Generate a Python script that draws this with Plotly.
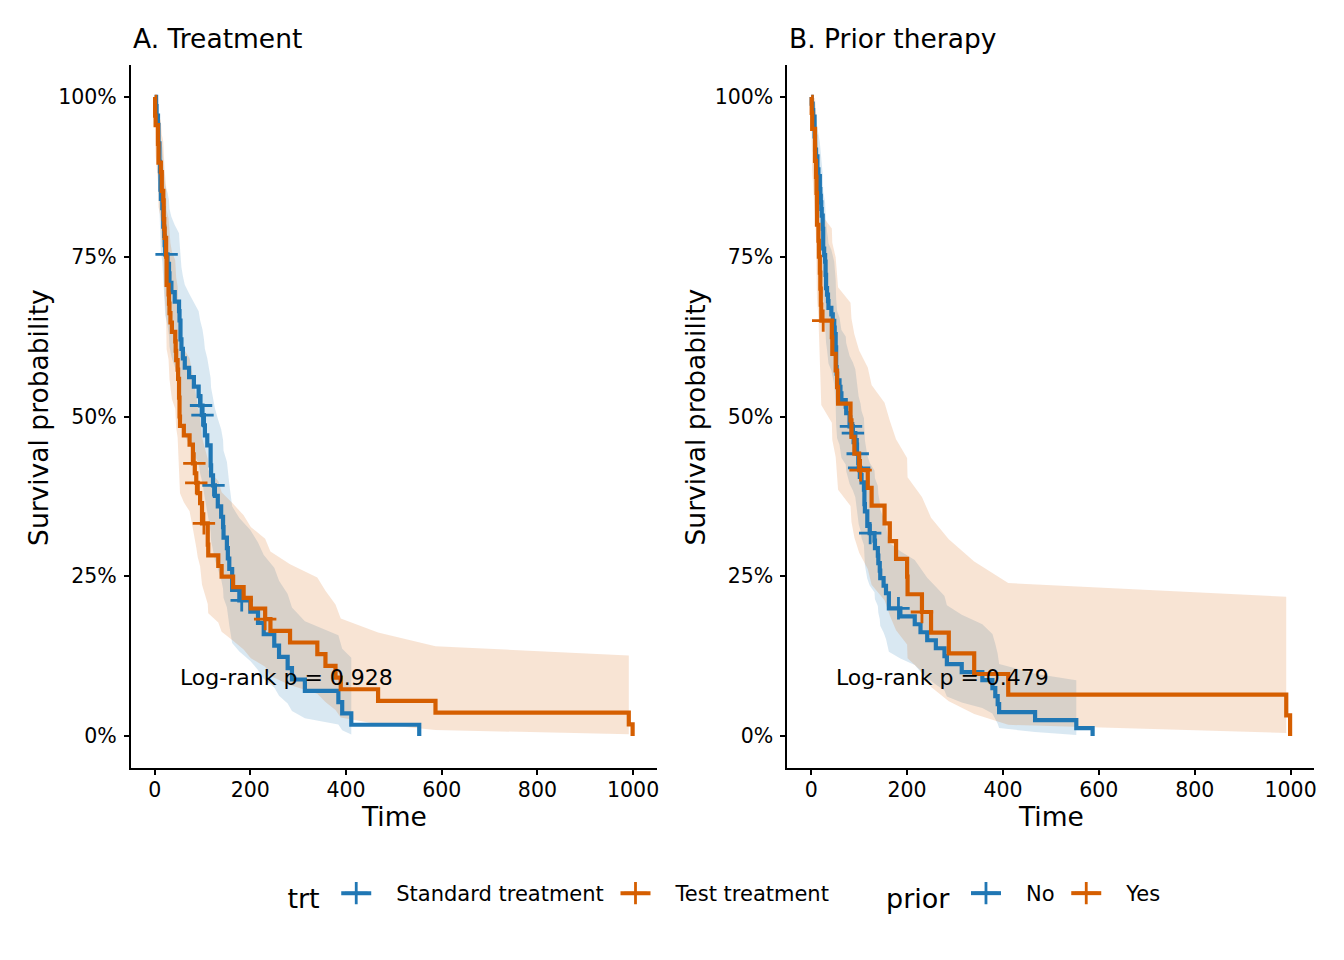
import plotly.graph_objects as go

# Kaplan-Meier steps: event times, survival, 95% band
std_time = [3, 4, 7, 8, 10, 11, 12, 13, 16, 18, 20, 21, 22, 27, 30, 31, 35, 42, 51, 52,
            54, 56, 59, 63, 72, 82, 92, 95, 100, 103, 105, 110, 117, 118, 122, 126, 132, 139, 143, 144,
            151, 153, 156, 162, 177, 200, 216, 228, 250, 260, 278, 287, 314, 384, 392, 411, 553]
std_surv = [.9855, .9710, .9565, .9275, .8986, .8841, .8551, .8406, .8261, .7971,
            .7826, .7681, .7536, .7388, .7241, .7093, .6945, .6797, .6650, .6502,
            .6206, .6059, .5911, .5763, .5615, .5467, .5320, .5172, .5020, .4863,
            .4706, .4549, .4236, .4079, .3922, .3758, .3595, .3431, .3268, .3105,
            .2941, .2778, .2614, .2288, .2124, .1947, .1770, .1593, .1416, .1239,
            .1062, .0885, .0708, .0531, .0354, .0177, 0]
std_lower = [.9577, .9323, .9096, .8683, .8301, .8117, .7759, .7585, .7413, .7077,
             .6911, .6747, .6585, .6420, .6258, .6096, .5937, .5778, .5621, .5465,
             .5156, .5004, .4853, .4702, .4553, .4405, .4258, .4112, .3961, .3807,
             .3654, .3502, .3202, .3054, .2907, .2754, .2603, .2453, .2306, .2160,
             .2015, .1873, .1732, .1457, .1322, .1176, .1034, .0895, .0761, .0632,
             .0508, .0390, .0279, .0179, .0092, .0026]
std_upper = [1, 1, 1, .9908, .9727, .9630, .9423, .9316, .9206, .8979,
             .8862, .8744, .8624, .8501, .8378, .8252, .8124, .7996, .7867, .7735,
             .7470, .7336, .7200, .7063, .6925, .6786, .6647, .6506, .6361, .6212,
             .6061, .5910, .5604, .5448, .5291, .5128, .4965, .4799, .4632, .4464,
             .4293, .4121, .3947, .3594, .3413, .3224, .3030, .2834, .2634, .2430,
             .2222, .2011, .1795, .1578, .1367, .1226]
std_cens_time = [25, 97, 100, 123, 182]
std_cens_surv = [.7536, .5172, .5020, .3922, .2124]

tst_time = [1, 2, 7, 8, 13, 15, 18, 19, 20, 21, 24, 25, 29, 30, 31, 33, 36, 43, 44, 45,
            48, 49, 51, 52, 53, 61, 73, 80, 84, 87, 90, 95, 99, 111, 112, 133, 140, 164, 186, 201,
            231, 242, 283, 340, 357, 378, 389, 467, 587, 991, 999]
tst_surv = [.9706, .9559, .9265, .8971, .8824, .8529, .8382, .8088, .7941, .7794,
            .75, .7059, .6912, .6765, .6618, .6471, .6324, .6176, .6029, .5882,
            .5735, .5588, .5294, .5, .4853, .4706, .4559, .4265, .4112, .3960,
            .3802, .3643, .3327, .2994, .2828, .2661, .2495, .2329, .2162, .1996,
            .1830, .1647, .1464, .1281, .1098, .0915, .0732, .0549, .0366, .0183, 0]
tst_lower = [.9312, .9083, .8665, .8277, .8091, .7727, .7551, .7206, .7036, .6868,
             .6538, .6055, .5897, .5739, .5583, .5429, .5275, .5122, .4971, .4822,
             .4672, .4524, .4231, .3942, .3799, .3657, .3516, .3238, .3093, .2951,
             .2803, .2656, .2367, .2067, .1921, .1775, .1633, .1492, .1354, .1218,
             .1085, .0939, .0798, .0661, .0531, .0407, .0291, .0186, .0095, .0027]
tst_upper = [1, 1, .9907, .9723, .9624, .9414, .9304, .9079, .8963, .8845,
             .8603, .8229, .8102, .7973, .7844, .7713, .7581, .7446, .7311, .7176,
             .7040, .6902, .6624, .6342, .6199, .6055, .5911, .5618, .5467, .5314,
             .5157, .4997, .4675, .4336, .4164, .3989, .3813, .3635, .3453, .3271,
             .3086, .2888, .2687, .2482, .2272, .2058, .1840, .1619, .1405, .1262]
tst_cens_time = [83, 87, 103, 231]
tst_cens_surv = [.4265, .3960, .3327, .1830]

no_time = [1, 3, 4, 7, 8, 10, 13, 15, 18, 19, 20, 21, 22, 24, 25, 27, 29, 30, 31, 33,
           35, 36, 42, 45, 48, 49, 51, 52, 53, 54, 59, 61, 63, 72, 73, 80, 87, 92, 95, 99,
           103, 105, 110, 111, 112, 117, 122, 132, 133, 139, 140, 143, 144, 151, 156, 162, 186, 216, 228, 242,
           260, 278, 283, 314, 357, 378, 384, 389, 392, 467, 553, 587]
no_surv = [.9897, .9794, .9691, .9381, .9175, .9072, .8866, .8763, .8557, .8454,
           .8351, .8247, .8144, .7938, .7629, .7526, .7423, .7216, .7010, .6907,
           .6804, .6701, .6598, .6495, .6392, .6289, .6082, .5773, .5670, .5567,
           .5464, .5361, .5258, .5155, .5052, .4845, .4740, .4632, .4417, .4196,
           .4083, .3969, .3856, .3629, .3516, .3289, .3175, .3058, .2940, .2822,
           .2705, .2587, .2470, .2352, .2234, .1999, .1874, .1749, .1624, .1499,
           .1374, .1249, .1124, .0999, .0874, .0749, .0625, .0500, .0375, .0250, .0125, 0]
no_lower = [.9697, .9515, .9353, .8914, .8644, .8512, .8257, .8131, .7885, .7764,
            .7644, .7524, .7406, .7172, .6828, .6715, .6601, .6377, .6155, .6046,
            .5936, .5828, .5719, .5612, .5504, .5397, .5184, .4869, .4765, .4661,
            .4558, .4455, .4353, .4250, .4149, .3946, .3843, .3738, .3529, .3316,
            .3207, .3098, .2991, .2777, .2671, .2461, .2357, .2249, .2142, .2036,
            .1931, .1827, .1724, .1621, .1519, .1320, .1214, .1110, .1008, .0907,
            .0808, .0712, .0617, .0526, .0437, .0351, .0271, .0194, .0125, .0064, .0018]
no_upper = [1, 1, 1, .9873, .9739, .9668, .9520, .9444, .9286, .9206,
            .9123, .9040, .8956, .8786, .8524, .8436, .8346, .8166, .7983, .7891,
            .7798, .7706, .7611, .7517, .7423, .7328, .7135, .6845, .6747, .6649,
            .6550, .6451, .6352, .6252, .6152, .5949, .5846, .5740, .5528, .5310,
            .5198, .5085, .4972, .4743, .4628, .4395, .4277, .4157, .4035, .3912,
            .3789, .3664, .3540, .3413, .3285, .3028, .2893, .2756, .2618, .2478,
            .2336, .2192, .2047, .1899, .1749, .1596, .1443, .1286, .1128, .0975, .0872]
no_cens_time = [83, 87, 97, 100, 123, 182]
no_cens_surv = [.4845, .4740, .4417, .4196, .3175, .1999]

yes_time = [1, 2, 8, 10, 11, 12, 15, 16, 18, 19, 20, 21, 43, 44, 51, 54, 56, 82, 84, 90,
            100, 118, 126, 153, 164, 177, 200, 201, 231, 250, 287, 340, 411, 991, 999]
yes_surv = [.975, .95, .90, .875, .85, .80, .775, .75, .725, .70,
            .675, .65, .624, .598, .572, .546, .520, .494, .468, .442,
            .416, .3883, .3605, .3328, .3051, .2773, .2496, .2219, .1941, .1618,
            .1294, .0971, .0647, .0324, 0]
yes_lower = [.9278, .8848, .8116, .7783, .7462, .6852, .6558, .6271, .5990, .5715,
             .5444, .5178, .4903, .4633, .4368, .4108, .3852, .3599, .3351, .3108,
             .2869, .2614, .2366, .2123, .1886, .1655, .1432, .1216, .1007, .0766,
             .0544, .0345, .0175, .0048]
yes_upper = [1, 1, .9979, .9838, .9682, .9341, .9158, .8969, .8775, .8574,
             .8369, .8160, .7941, .7718, .7490, .7257, .7021, .6780, .6535, .6286,
             .6033, .5767, .5494, .5217, .4935, .4645, .4351, .4051, .3742, .3417,
             .3078, .2733, .2394, .2179]
yes_cens_time = [25, 103, 231]
yes_cens_surv = [.65, .416, .1941]

BLUE = "#2077B4"
ORANGE = "#D55E00"
FONT = "DejaVu Sans"
NB = "\u00a0"

# page body has an 8px margin, so the figure is made 8px smaller and
# positions measured on the 1344x960 picture are shifted by 8px
W, H = 1336, 952


def px(x):
    return (x - 8) / W


def py(y):
    return 1 - (y - 8) / H


fig = go.Figure()


def add_curve(time, surv, lower, upper, ct, cs, color, fill, xa, ya):
    n = len(lower)
    bx = [0] + time[:n]
    fig.add_trace(go.Scatter(
        x=bx + bx[::-1], y=[1] + upper + (lower[::-1] + [1]),
        fill="toself", fillcolor=fill, line=dict(width=0),
        mode="lines", hoverinfo="skip", showlegend=False, xaxis=xa, yaxis=ya))
    return dict(time=time, surv=surv, ct=ct, cs=cs, color=color, xa=xa, ya=ya)


def add_line(c):
    fig.add_trace(go.Scatter(
        x=[0] + c["time"], y=[1] + c["surv"], mode="lines",
        line=dict(color=c["color"], width=4.2, shape="hv"),
        showlegend=False, xaxis=c["xa"], yaxis=c["ya"]))
    fig.add_trace(go.Scatter(
        x=c["ct"], y=c["cs"], mode="markers",
        marker=dict(symbol="cross-thin", size=16, line=dict(color=c["color"], width=2.8)),
        showlegend=False, xaxis=c["xa"], yaxis=c["ya"]))


blue_fill = "rgba(32,119,180,0.17)"
orange_fill = "rgba(213,94,0,0.17)"

curves = [
    add_curve(std_time, std_surv, std_lower, std_upper, std_cens_time, std_cens_surv, BLUE, blue_fill, "x", "y"),
    add_curve(tst_time, tst_surv, tst_lower, tst_upper, tst_cens_time, tst_cens_surv, ORANGE, orange_fill, "x", "y"),
    add_curve(no_time, no_surv, no_lower, no_upper, no_cens_time, no_cens_surv, BLUE, blue_fill, "x2", "y2"),
    add_curve(yes_time, yes_surv, yes_lower, yes_upper, yes_cens_time, yes_cens_surv, ORANGE, orange_fill, "x2", "y2"),
]
for c in curves:
    add_line(c)

# legend entries
for name, color, lg in [("Standard treatment", BLUE, "legend"), ("Test treatment", ORANGE, "legend"),
                        ("No", BLUE, "legend2"), ("Yes", ORANGE, "legend2")]:
    fig.add_trace(go.Scatter(
        x=[None], y=[None], mode="lines+markers", name=NB * 3 + name + NB, legend=lg,
        line=dict(color=color, width=4),
        marker=dict(symbol="cross-thin", size=17, line=dict(color=color, width=2.8))))

axis_common = dict(showline=True, linecolor="black", linewidth=1.6, ticks="outside",
                   ticklen=5, tickwidth=1.6, tickcolor="black", showgrid=False, zeroline=False,
                   tickfont=dict(family=FONT, size=20.5, color="black"))
xcommon = dict(axis_common, range=[-50, 1049], tickvals=[0, 200, 400, 600, 800, 1000],
               ticklabelstandoff=-2)
ycommon = dict(axis_common, range=[-0.05, 1.05], tickvals=[0, .25, .5, .75, 1],
               tickformat=".0%", ticklabelstandoff=3)

ydom = [py(768), py(65)]
legend_common = dict(orientation="h", y=py(896), xanchor="left", yanchor="middle",
                     font=dict(family=FONT, size=21, color="black"))
fig.update_layout(
    width=W, height=H, margin=dict(l=0, r=0, t=0, b=0),
    paper_bgcolor="white", plot_bgcolor="white",
    xaxis=dict(xcommon, domain=[px(131), px(658)], anchor="y"),
    yaxis=dict(ycommon, domain=ydom, anchor="x"),
    xaxis2=dict(xcommon, domain=[px(789), px(1317)], anchor="y2"),
    yaxis2=dict(ycommon, domain=ydom, anchor="x2"),
    legend=dict(legend_common, x=px(286),
                title=dict(text="trt" + NB, font=dict(family=FONT, size=27, color="black"), side="left")),
    legend2=dict(legend_common, x=px(886),
                 title=dict(text="prior" + NB, font=dict(family=FONT, size=27, color="black"), side="left")),
    showlegend=True,
)

ann = []
for txt, x in [("A. Treatment", 131), ("B. Prior therapy", 789)]:
    ann.append(dict(text=txt, x=px(x), y=py(38), xref="paper", yref="paper",
                    xanchor="left", yanchor="middle", showarrow=False,
                    font=dict(family=FONT, size=26.5, color="black")))
for x in [38, 697]:
    ann.append(dict(text="Survival probability", x=px(x), y=py(417), xref="paper", yref="paper",
                    textangle=-90, xanchor="center", yanchor="middle", showarrow=False,
                    font=dict(family=FONT, size=26.5, color="black")))
for x in [394.5, 1053]:
    ann.append(dict(text="Time", x=px(x), y=py(816), xref="paper", yref="paper",
                    xanchor="center", yanchor="middle", showarrow=False,
                    font=dict(family=FONT, size=26.5, color="black")))
for txt, xr, yr in [("Log-rank p = 0.928", "x", "y"), ("Log-rank p = 0.479", "x2", "y2")]:
    ann.append(dict(text=txt, x=48, y=0.091, xref=xr, yref=yr, xanchor="left", yanchor="middle",
                    showarrow=False, font=dict(family=FONT, size=22, color="black")))
fig.update_layout(annotations=ann)

fig.write_html("out.html")
